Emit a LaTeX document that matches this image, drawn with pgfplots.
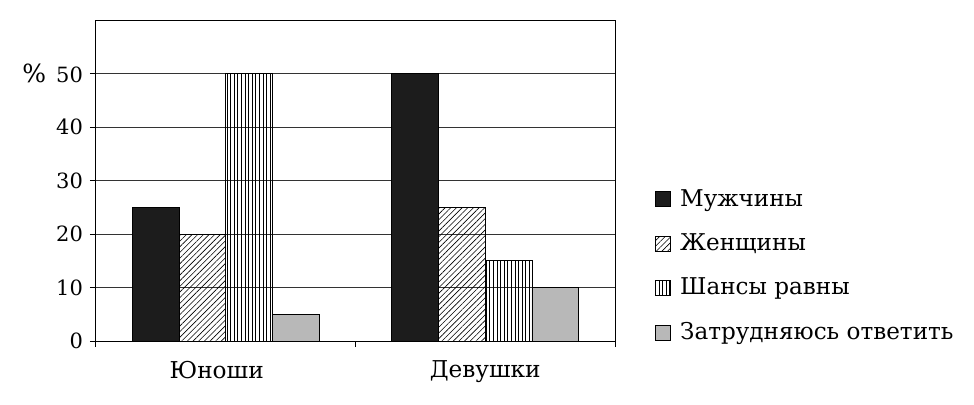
\documentclass[border=0pt]{standalone}
\usepackage{pgfplots}
\pgfplotsset{compat=1.18}
\usetikzlibrary{patterns.meta}
\usepackage{fontspec}
\setmainfont{DejaVu Serif}

\definecolor{barblack}{HTML}{1C1C1C}
\definecolor{bargray}{HTML}{B8B8B8}

\pgfplotsset{
  sq legend/.style={
    legend image code/.code={
      \draw[##1,draw=black,line width=0.4pt] (0pt,-3.75pt) rectangle (7.5pt,3.75pt);
    }
  }
}

\begin{document}
\begin{tikzpicture}
% frame of the whole picture (1 px = 0.5 pt)
\path (-48pt,-31.5pt) rectangle (439pt,170.5pt);
\begin{axis}[
    at={(0,0)}, anchor=south west,
    scale only axis,
    width=259.5pt, height=160.5pt,
    ybar, bar width=0.18,
    xmin=-0.5, xmax=1.5,
    ymin=0, ymax=60,
    xtick={-0.035,1},
    xticklabels={Юноши,Девушки},
    minor xtick={-0.5,0.5,1.5},
    major x tick style={draw=none},
    ytick={0,10,...,50},
    yticklabels={0,10,20,30,40,\llap{{\fontsize{12.5}{14}\selectfont\%}\hspace{5pt}}50},
    tick pos=left, tick align=outside,
    major tick length=3pt, minor tick length=3pt,
    tick style={black, line width=0.5pt},
    ymajorgrids,
    grid style={black!80, line width=0.4pt},
    axis line style={line width=0.5pt},
    x tick label style={font=\fontsize{11.6}{13}\selectfont, yshift=-3.5pt},
    y tick label style={font=\fontsize{10.5}{12}\selectfont},
    legend style={at={(1.077,0.234)}, anchor=west, draw=none, fill=none,
        inner sep=0pt, row sep=8.3pt,
        font=\fontsize{11.55}{13}\selectfont},
    legend cell align=left,
    /tikz/every odd column/.append style={column sep=2.5pt},
]
\addplot[bar shift=-0.27, fill=barblack, draw=black, line width=0.4pt, sq legend]
    coordinates {(0,25) (1,50)};
\addlegendentry{Мужчины}
\addplot[bar shift=-0.09, fill=white, draw=black, line width=0.4pt,
    pattern={Lines[angle=45,distance=2pt,line width=0.3pt]}, sq legend]
    coordinates {(0,20) (1,25)};
\addlegendentry{Женщины}
\addplot[bar shift=0.09, fill=white, draw=black, line width=0.4pt,
    pattern={Lines[angle=90,distance=1.8pt,line width=0.3pt]}, sq legend]
    coordinates {(0,50) (1,15)};
\addlegendentry{Шансы равны}
\addplot[bar shift=0.27, fill=bargray, draw=black, line width=0.4pt, sq legend]
    coordinates {(0,5) (1,10)};
\addlegendentry{Затрудняюсь ответить}
\end{axis}
\end{tikzpicture}
\end{document}
